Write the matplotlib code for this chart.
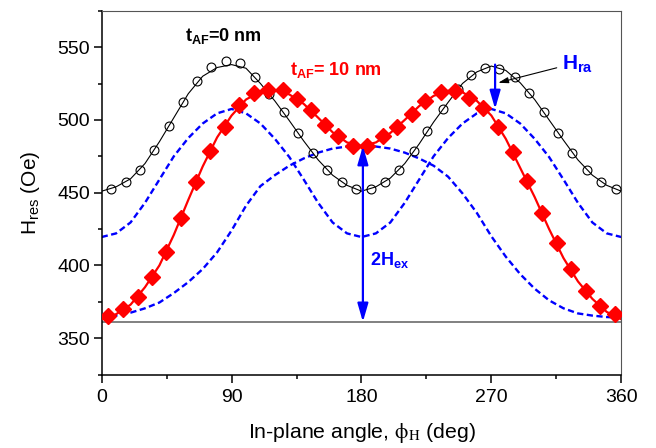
import numpy as np
import matplotlib
matplotlib.use('Agg')
import matplotlib.pyplot as plt
from matplotlib.ticker import MultipleLocator

plt.rcParams['font.family'] = ['Liberation Sans', 'DejaVu Sans']
plt.rcParams['mathtext.fontset'] = 'custom'
plt.rcParams['mathtext.rm'] = 'Liberation Sans'
plt.rcParams['mathtext.it'] = 'Liberation Sans:italic'
plt.rcParams['mathtext.bf'] = 'Liberation Sans:bold'
plt.rcParams['lines.scale_dashes'] = False

# measured points, t_AF = 0 nm (open circles)
phi_0nm = [6.4, 16.6, 26.5, 36.2, 46.4, 56.1, 66.1, 76.0, 86.4, 95.8, 106.0, 116.1,
           126.1, 136.2, 146.2, 156.1, 166.5, 176.4, 186.4, 196.5, 206.0, 216.2,
           225.6, 236.5, 246.9, 256.1, 265.8, 275.5, 286.2, 295.9, 306.3, 316.2,
           326.1, 336.1, 346.2, 356.2]
h_0nm = [452.7, 457.0, 465.3, 479.0, 495.6, 512.1, 526.9, 536.2, 540.6, 539.3, 529.6,
         517.9, 505.2, 491.0, 477.2, 465.7, 457.0, 452.7, 452.7, 457.0, 465.7, 478.3,
         492.6, 507.6, 521.3, 531.0, 535.8, 535.1, 529.6, 518.6, 505.5, 491.0, 477.2,
         465.3, 457.0, 452.7]

# measured points, t_AF = 10 nm (filled diamonds)
phi_10nm = [4.6, 15.0, 24.9, 35.0, 44.4, 55.0, 65.4, 74.8, 85.2, 95.1, 105.5, 115.4,
            125.3, 135.5, 145.2, 154.7, 164.0, 174.4, 184.1, 195.1, 204.9, 214.8,
            224.0, 234.9, 245.0, 254.5, 264.0, 274.4, 285.1, 294.8, 304.8, 315.3,
            325.0, 335.4, 345.3, 355.7]
h_10nm = [365.4, 369.8, 378.5, 392.2, 409.0, 432.9, 457.5, 478.4, 495.2, 510.5, 518.2,
          520.7, 520.2, 514.3, 506.9, 496.7, 488.7, 481.8, 481.8, 488.7, 495.2, 504.3,
          512.8, 519.1, 520.0, 514.8, 508.0, 494.9, 478.0, 458.0, 436.3, 415.7, 397.5,
          382.6, 372.3, 366.5]

# fitted curves read every 10 deg
phi_fit = np.arange(0, 361, 10)
fit_0nm = [451, 454, 459.5, 470, 485, 501.5, 518, 530, 536, 538, 535.5, 525, 513,
           499.5, 485.5, 472.5, 462, 455, 451, 454, 460, 470, 483.5, 498.5, 512, 525,
           533, 537, 534, 525.5, 514, 500, 486, 472.5, 462, 455, 451]
fit_10nm = [363, 366.5, 373, 385, 400, 421, 445, 468, 488, 503, 514, 519.5, 520.5,
            517.5, 511, 501.5, 491.5, 484.5, 482, 484.5, 491, 500, 509.5, 516.5, 520,
            519, 513, 503, 487, 467, 447, 425, 405, 389, 377, 368, 363]
fit_uniax = [419.5, 422, 429.5, 443, 459, 475, 487.5, 497.5, 504.5, 507.5, 504.5,
             497.5, 487, 474.5, 459, 443, 429.5, 422, 419.5, 422, 429.5, 443, 459, 475,
             487.5, 497.5, 504.5, 507.5, 504.5, 497.5, 487, 474.5, 459, 443, 429.5, 422,
             419.5]
fit_unidir = [364, 365.5, 367.5, 370.5, 374.5, 381, 388.5, 397.5, 409, 424, 441,
              454.5, 462, 468.5, 473.5, 477.5, 480.3, 481.7, 482, 481.7, 480.3, 477.5,
              473.5, 468.5, 461, 449.5, 436, 420, 406, 394, 384, 376, 370.5, 367, 365.5,
              364.5, 364]

H_BASE = 361.2   # horizontal reference level
PHI_EX = 181     # position of the 2H_ex arrow
PHI_RA = 272.6   # position of the H_ra arrow

BLUE = '#0000ff'
RED = '#ff0000'

fig = plt.figure(figsize=(6.56, 4.48), dpi=100)
ax = fig.add_axes([0.155, 0.164, 0.792, 0.812])

ax.axhline(H_BASE, color='#808080', lw=1.4, zorder=1)
ax.plot(phi_fit, fit_uniax, color=BLUE, lw=1.7, dashes=(4.5, 2.5), zorder=2)
ax.plot(phi_fit, fit_unidir, color=BLUE, lw=1.7, dashes=(4.5, 2.5), zorder=2)
ax.plot(phi_fit, fit_0nm, color='black', lw=0.8, zorder=3)
ax.plot(phi_0nm, h_0nm, 'o', ms=6.4, mfc='none', mec='black', mew=0.8, zorder=4)
ax.plot(phi_fit, fit_10nm, color=RED, lw=1.6, zorder=3)
ax.plot(phi_10nm, h_10nm, 'D', ms=7.8, color=RED, zorder=4)

# 2H_ex arrow
ax.annotate('', xy=(PHI_EX, H_BASE), xytext=(PHI_EX, fit_10nm[18]),
            arrowprops=dict(arrowstyle='<|-|>,head_length=1.1,head_width=0.32',
                            color=BLUE, lw=1.6, shrinkA=0, shrinkB=0), zorder=5)
ax.text(186, 404, r'$\mathbf{2H_{ex}}$', color=BLUE, fontsize=13,
        ha='left', va='center')

# H_ra arrow
ax.annotate('', xy=(PHI_RA, max(fit_uniax)), xytext=(PHI_RA, max(fit_0nm)),
            arrowprops=dict(arrowstyle='-|>,head_length=1.1,head_width=0.32',
                            color=BLUE, lw=1.6, shrinkA=0, shrinkB=0), zorder=5)
ax.annotate('', xy=(274.8, 525.5), xytext=(315.3, 535.8),
            arrowprops=dict(arrowstyle='-|>,head_length=0.6,head_width=0.18',
                            color='black', lw=0.8, shrinkA=0, shrinkB=0), zorder=5)
ax.text(319, 538, r'$\mathbf{H_{ra}}$', color=BLUE, fontsize=15,
        ha='left', va='center')

ax.text(57.7, 557.5, r'$\mathbf{t_{AF}}$=0 nm', color='black', fontsize=13,
        fontweight='bold', ha='left', va='center')
ax.text(130.5, 534.5, r'$\mathbf{t_{AF}}$= 10 nm', color=RED, fontsize=13,
        fontweight='bold', ha='left', va='center')

ax.set_xlim(0, 360)
ax.set_ylim(325, 575)
ax.xaxis.set_major_locator(MultipleLocator(90))
ax.xaxis.set_minor_locator(MultipleLocator(45))
ax.yaxis.set_major_locator(MultipleLocator(50))
ax.yaxis.set_minor_locator(MultipleLocator(25))
ax.set_yticks([350, 400, 450, 500, 550])
ax.tick_params(which='both', direction='out', top=False, right=False,
               labelsize=14, width=1.1)
ax.tick_params(which='major', length=5.5)
ax.tick_params(which='minor', length=3)
ax.tick_params(axis='x', which='major', pad=5)
ax.tick_params(axis='y', which='major', pad=3)

for side in ('left', 'bottom'):
    ax.spines[side].set_linewidth(1.1)
for side in ('top', 'right'):
    ax.spines[side].set_color('#555555')
    ax.spines[side].set_linewidth(0.8)

ax.set_xlabel(r'In-plane angle, $\mathrm{\phi}_{\mathrm{H}}$ (deg)', fontsize=15.3,
              labelpad=11, math_fontfamily='stix')
ax.set_ylabel(r'H$_{\mathrm{res}}$ (Oe)', fontsize=15, labelpad=11)

plt.savefig('out.png', dpi=100)
